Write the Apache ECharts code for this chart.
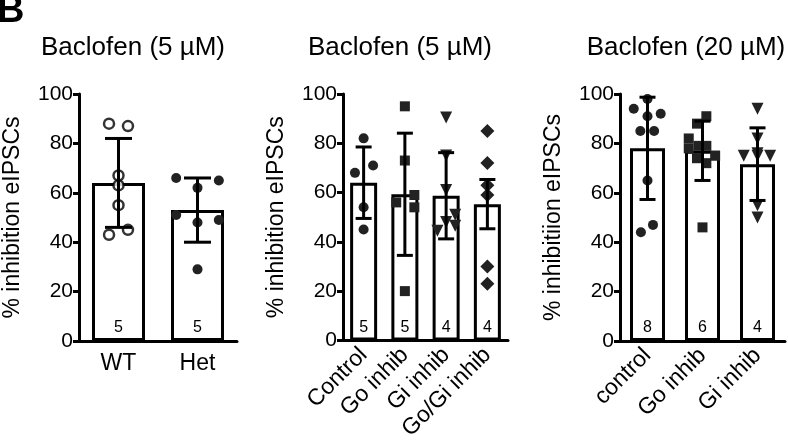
<!DOCTYPE html>
<html>
<head>
<meta charset="utf-8">
<script src="https://cdn.jsdelivr.net/npm/echarts@6/dist/echarts.min.js"></script>
<style>
body { margin: 0; background: #fff; }
#main { width: 788px; height: 443px; }
</style>
</head>
<body>
<div id="main"></div>
<script>
var FONT = '"Liberation Sans", Arial, sans-serif';

// panel 1 - Baclofen (5 uM), WT vs Het
var cats1 = ['WT', 'Het'];
var mean1 = [64, 53];
var sd1 = [18, 13];
var n1 = [5, 5];
var wtPts = [88, 87, 67, 63, 55, 43, 45];
var wtJit = [-0.12, 0.12, 0, 0, 0, -0.12, 0.12];
var hetPts = [66, 65, 62, 51, 48, 49, 29];
var hetJit = [-0.27, 0.27, 0, -0.27, 0, 0.27, 0];

// panel 2 - Baclofen (5 uM), inhibitors
var cats2 = ['Control', 'Go inhib', 'Gi inhib', 'Go/Gi inhib'];
var mean2 = [64, 59.3, 58.7, 55.3];
var sd2 = [14.5, 24.8, 17.5, 10];
var n2 = [5, 5, 4, 4];
var ctl2Pts = [82, 68, 71, 54, 45];
var ctl2Jit = [0, -0.21, 0.23, 0, 0];
var go2Pts = [95, 73, 56, 59, 54, 20];
var go2Jit = [0, 0, -0.21, 0.23, 0.23, 0];
var gi2Pts = [90.5, 75, 61, 51, 48, 46.5, 44.5];
var gi2Jit = [0, 0, 0, 0.22, 0, 0.22, -0.21];
var gogi2Pts = [85, 72, 63, 59, 30, 23];
var gogi2Jit = [0, 0, 0, 0, 0, 0];

// panel 3 - Baclofen (20 uM)
var cats3 = ['control', 'Go inhib', 'Gi inhib'];
var mean3 = [78, 77, 71.6];
var sd3 = [20.7, 12, 14.7];
var n3 = [8, 6, 4];
var ctl3Pts = [94, 98, 91, 92, 85, 85, 65, 44, 47];
var ctl3Jit = [-0.25, 0, 0, 0.24, -0.13, 0.12, 0, -0.12, 0.1];
var go3Pts = [91, 88, 82, 79, 78, 79, 75, 74, 72, 46];
var go3Jit = [0.07, -0.1, -0.25, -0.07, -0.25, 0.07, 0.23, -0.1, 0.07, 0];
var gi3Pts = [94, 82, 76, 75, 75, 75, 55, 50];
var gi3Jit = [0, 0, 0, -0.25, 0, 0.23, 0, 0];

var titles = ['Baclofen (5 µM)', 'Baclofen (5 µM)', 'Baclofen (20 µM)'];
var yNames = ['% inhibition eIPSCs', '% inhibition eIPSCs', '% inhibitiion eIPSCs'];

function pts(idx, vals, jit) {
	return vals.map(function (v, i) { return [idx + jit[i], v]; });
}
function errData(mean, sd) {
	return mean.map(function (m, i) { return [i, m - sd[i], m + sd[i]]; });
}
function errRender(capW) {
	return function (params, api) {
		var x = api.value(0);
		var pLo = api.coord([x, api.value(1)]);
		var pHi = api.coord([x, api.value(2)]);
		var st = { stroke: '#000', lineWidth: 3 };
		return {
			type: 'group',
			children: [
				{ type: 'line', shape: { x1: pHi[0], y1: pHi[1], x2: pLo[0], y2: pLo[1] }, style: st },
				{ type: 'line', shape: { x1: pHi[0] - capW / 2, y1: pHi[1], x2: pHi[0] + capW / 2, y2: pHi[1] }, style: st },
				{ type: 'line', shape: { x1: pLo[0] - capW / 2, y1: pLo[1], x2: pLo[0] + capW / 2, y2: pLo[1] }, style: st }
			]
		};
	};
}

var axisLineStyle = { color: '#000', width: 3 };

function catAxis(g, cats, rotate) {
	return {
		type: 'category', gridIndex: g, data: cats,
		axisLine: { onZero: false, lineStyle: axisLineStyle },
		axisTick: { alignWithLabel: true, length: 6, lineStyle: axisLineStyle },
		axisLabel: { color: '#000', fontSize: 23, fontFamily: FONT, rotate: rotate, margin: 11, interval: 0 }
	};
}
function jitAxis(g, n) {
	return { type: 'value', gridIndex: g, min: -0.5, max: n - 0.5, show: false };
}
function valAxis(g, name) {
	return {
		type: 'value', gridIndex: g, min: 0, max: 100, interval: 20,
		name: name, nameLocation: 'middle', nameGap: 55,
		nameTextStyle: { color: '#000', fontSize: 23, fontFamily: FONT },
		axisLine: { show: true, onZero: false, lineStyle: axisLineStyle },
		axisTick: { show: true, length: 6, lineStyle: axisLineStyle },
		axisLabel: { color: '#000', fontSize: 21, fontFamily: FONT, margin: 6 },
		splitLine: { show: false }
	};
}
function barSeries(g, mean, n, w) {
	return {
		type: 'bar', xAxisIndex: g, yAxisIndex: g, data: mean, barWidth: w, z: 1,
		itemStyle: { color: '#fff', borderColor: '#000', borderWidth: 3 },
		label: {
			show: true, position: 'insideBottom', distance: 5,
			color: '#000', fontSize: 16, fontFamily: FONT,
			formatter: function (p) { return n[p.dataIndex]; }
		},
		silent: true
	};
}
function dotSeries(g, data, symbol, size, open, rot) {
	return {
		type: 'scatter', xAxisIndex: g + 3, yAxisIndex: g, data: data,
		symbol: symbol, symbolSize: size, symbolRotate: rot || 0, z: 3,
		itemStyle: open ? { color: '#fff', borderColor: '#000', borderWidth: 2.5 } : { color: '#222', opacity: 1 }
	};
}
function errSeries(g, mean, sd, capW) {
	return {
		type: 'custom', xAxisIndex: g, yAxisIndex: g, z: 4,
		renderItem: errRender(capW), data: errData(mean, sd), silent: true
	};
}

var option = {
	animation: false,
	backgroundColor: '#fff',
	textStyle: { fontFamily: FONT },
	graphic: [
		{ type: 'text', left: -3, top: -7, style: { text: 'B', font: '900 38px ' + FONT, fill: '#000' } },
		{ type: 'text', x: 133, y: 48, style: { text: titles[0], font: '26px ' + FONT, fill: '#000', textAlign: 'center', textVerticalAlign: 'middle' } },
		{ type: 'text', x: 400, y: 48, style: { text: titles[1], font: '26px ' + FONT, fill: '#000', textAlign: 'center', textVerticalAlign: 'middle' } },
		{ type: 'text', x: 686, y: 48, style: { text: titles[2], font: '26px ' + FONT, fill: '#000', textAlign: 'center', textVerticalAlign: 'middle' } }
	],
	grid: [
		{ left: 69, top: 94, width: 168, height: 247 },
		{ left: 343, top: 94, width: 165, height: 247 },
		{ left: 620, top: 94, width: 165, height: 247 }
	],
	xAxis: [
		catAxis(0, cats1, 0),
		catAxis(1, cats2, 45),
		catAxis(2, cats3, 45),
		jitAxis(0, cats1.length),
		jitAxis(1, cats2.length),
		jitAxis(2, cats3.length)
	],
	yAxis: [valAxis(0, yNames[0]), valAxis(1, yNames[1]), valAxis(2, yNames[2])],
	series: [
		barSeries(0, mean1, n1, 53),
		dotSeries(0, pts(0, wtPts, wtJit), 'circle', 10, true),
		dotSeries(0, pts(1, hetPts, hetJit), 'circle', 10, false),
		errSeries(0, mean1, sd1, 27),

		barSeries(1, mean2, n2, 27),
		dotSeries(1, pts(0, ctl2Pts, ctl2Jit), 'circle', 10, false),
		dotSeries(1, pts(1, go2Pts, go2Jit), 'rect', 10, false),
		dotSeries(1, pts(2, gi2Pts, gi2Jit), 'triangle', 12, false, 180),
		dotSeries(1, pts(3, gogi2Pts, gogi2Jit), 'diamond', 14, false),
		errSeries(1, mean2, sd2, 16),

		barSeries(2, mean3, n3, 35),
		dotSeries(2, pts(0, ctl3Pts, ctl3Jit), 'circle', 10, false),
		dotSeries(2, pts(1, go3Pts, go3Jit), 'rect', 10, false),
		dotSeries(2, pts(2, gi3Pts, gi3Jit), 'triangle', 12, false, 180),
		errSeries(2, mean3, sd3, 16)
	]
};

var myChart = echarts.init(document.getElementById('main'));
myChart.setOption(option);
</script>
</body>
</html>
